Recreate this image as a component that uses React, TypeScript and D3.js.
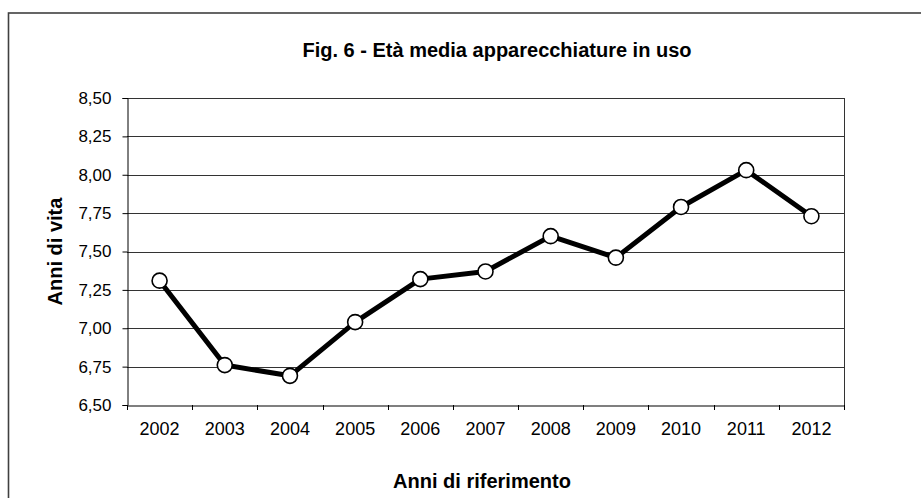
import { useRef, useEffect } from 'react';
import * as d3 from 'd3';

const years = ['2002', '2003', '2004', '2005', '2006', '2007', '2008', '2009', '2010', '2011', '2012'];
const ageValues = [7.31, 6.76, 6.69, 7.04, 7.32, 7.37, 7.6, 7.46, 7.79, 8.03, 7.73];
const yTicks = [6.5, 6.75, 7.0, 7.25, 7.5, 7.75, 8.0, 8.25, 8.5];

const FONT = '"Liberation Sans", Arial, sans-serif';

const App = () => {
  const ref = useRef<SVGSVGElement>(null);

  useEffect(() => {
    if (!ref.current) return;
    const svg = d3.select(ref.current);
    svg.selectAll('*').remove();

    const width = 921;
    const height = 498;
    const margin = { top: 98, right: 77, bottom: 93, left: 127 };
    const x0 = margin.left;
    const x1 = width - margin.right;
    const yTop = margin.top;
    const yBottom = height - margin.bottom;

    svg.append('rect').attr('width', width).attr('height', height).attr('fill', '#fff');

    // outer frame (runs off the right and bottom)
    svg.append('rect')
      .attr('x', 8.5)
      .attr('y', 13)
      .attr('width', width + 20)
      .attr('height', height + 20)
      .attr('fill', 'none')
      .attr('stroke', '#404040')
      .attr('stroke-width', 1.6);

    const x = d3.scaleBand<string>().domain(years).range([x0, x1]).padding(0);
    const y = d3.scaleLinear().domain([6.5, 8.5]).range([yBottom, yTop]);

    // gridlines
    svg.append('g')
      .selectAll('line')
      .data(yTicks.filter(t => t > 6.5))
      .join('line')
      .attr('x1', x0)
      .attr('x2', x1)
      .attr('y1', d => Math.round(y(d)) + 0.5)
      .attr('y2', d => Math.round(y(d)) + 0.5)
      .attr('stroke', '#333')
      .attr('stroke-width', 1);

    // right plot border
    svg.append('line')
      .attr('x1', x1 + 0.5).attr('x2', x1 + 0.5)
      .attr('y1', yTop).attr('y2', yBottom)
      .attr('stroke', '#333');

    // y axis
    const yAxis = svg.append('g')
      .attr('transform', `translate(${x0 + 0.5},0)`)
      .call(
        d3.axisLeft(y)
          .tickValues(yTicks)
          .tickSize(5)
          .tickPadding(11)
          .tickFormat(d => (d as number).toFixed(2).replace('.', ','))
      );
    yAxis.select('.domain').attr('stroke', '#000');
    yAxis.selectAll('.tick line').attr('stroke', '#000');
    yAxis.selectAll('.tick text')
      .attr('font-family', FONT)
      .attr('font-size', 17)
      .attr('fill', '#000');
    yAxis.attr('font-family', null).attr('font-size', null);

    // x axis
    const xAxis = svg.append('g')
      .attr('transform', `translate(0,${Math.round(yBottom) + 0.5})`)
      .call(d3.axisBottom(x).tickSize(0).tickPadding(17));
    xAxis.select('.domain').attr('stroke', '#000').attr('stroke-width', 1.2);
    xAxis.selectAll('.tick text')
      .attr('font-family', FONT)
      .attr('font-size', 18)
      .attr('fill', '#000');

    // tick marks at category boundaries
    const bounds = years.map(d => x(d) as number).concat([x1]);
    svg.append('g')
      .selectAll('line')
      .data(bounds)
      .join('line')
      .attr('x1', d => Math.round(d) + 0.5)
      .attr('x2', d => Math.round(d) + 0.5)
      .attr('y1', yBottom)
      .attr('y2', yBottom + 5)
      .attr('stroke', '#000');

    // series line
    const line = d3.line<number>()
      .x((_, i) => (x(years[i]) as number) + x.bandwidth() / 2)
      .y(d => y(d));

    svg.append('path')
      .datum(ageValues)
      .attr('d', line)
      .attr('fill', 'none')
      .attr('stroke', '#000')
      .attr('stroke-width', 5)
      .attr('stroke-linejoin', 'round');

    svg.append('g')
      .selectAll('circle')
      .data(ageValues)
      .join('circle')
      .attr('cx', (_, i) => (x(years[i]) as number) + x.bandwidth() / 2)
      .attr('cy', d => y(d))
      .attr('r', 7.5)
      .attr('fill', '#fff')
      .attr('stroke', '#000')
      .attr('stroke-width', 1.6);

    // titles
    svg.append('text')
      .attr('x', 497)
      .attr('y', 57)
      .attr('text-anchor', 'middle')
      .attr('font-family', FONT)
      .attr('font-weight', 'bold')
      .attr('font-size', 20)
      .text('Fig. 6 - Età media apparecchiature in uso');

    svg.append('text')
      .attr('x', 482)
      .attr('y', 488)
      .attr('text-anchor', 'middle')
      .attr('font-family', FONT)
      .attr('font-weight', 'bold')
      .attr('font-size', 20)
      .text('Anni di riferimento');

    svg.append('text')
      .attr('transform', `translate(62,${(yTop + yBottom) / 2}) rotate(-90)`)
      .attr('text-anchor', 'middle')
      .attr('font-family', FONT)
      .attr('font-weight', 'bold')
      .attr('font-size', 20)
      .text('Anni di vita');
  }, []);

  return (
    <svg
      ref={ref}
      width={921}
      height={498}
      style={{ position: 'absolute', left: 0, top: 0, display: 'block' }}
    />
  );
};

export default App;
